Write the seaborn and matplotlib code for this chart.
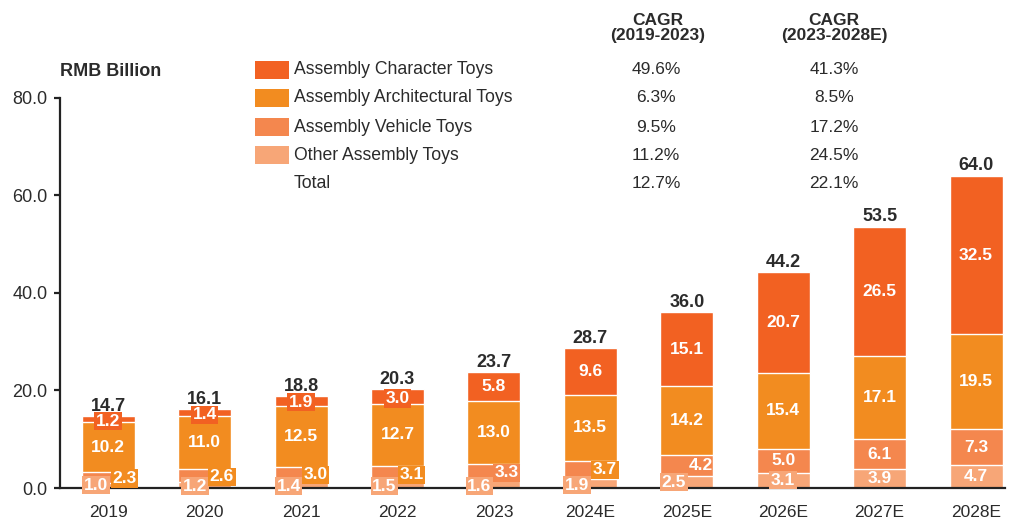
import matplotlib.pyplot as plt
import matplotlib.patches as mpatches
import pandas as pd
import seaborn as sns

years = ["2019", "2020", "2021", "2022", "2023", "2024E", "2025E", "2026E", "2027E", "2028E"]
other = [1.0, 1.2, 1.4, 1.5, 1.6, 1.9, 2.5, 3.1, 3.9, 4.7]
vehicle = [2.3, 2.6, 3.0, 3.1, 3.3, 3.7, 4.2, 5.0, 6.1, 7.3]
architectural = [10.2, 11.0, 12.5, 12.7, 13.0, 13.5, 14.2, 15.4, 17.1, 19.5]
character = [1.2, 1.4, 1.9, 3.0, 5.8, 9.6, 15.1, 20.7, 26.5, 32.5]
totals = [14.7, 16.1, 18.8, 20.3, 23.7, 28.7, 36.0, 44.2, 53.5, 64.0]

series_names = ["Assembly Character Toys", "Assembly Architectural Toys",
                "Assembly Vehicle Toys", "Other Assembly Toys", "Total"]
cagr_19_23 = ["49.6%", "6.3%", "9.5%", "11.2%", "12.7%"]
cagr_23_28 = ["41.3%", "8.5%", "17.2%", "24.5%", "22.1%"]

C_CHAR = "#F26122"
C_ARCH = "#F28C20"
C_VEH = "#F4874E"
C_OTHER = "#F7A677"
TEXT = "#2b2b2b"

plt.rcParams["font.family"] = ["Liberation Sans", "DejaVu Sans"]

df = pd.DataFrame({"year": years, "other": other, "vehicle": vehicle,
                   "architectural": architectural, "character": character})
df["c1"] = df["other"]
df["c2"] = df["c1"] + df["vehicle"]
df["c3"] = df["c2"] + df["architectural"]
df["c4"] = df["c3"] + df["character"]

fig = plt.figure(figsize=(10.1, 5.21), dpi=100)
ax = fig.add_axes([0.0594, 0.0633, 0.9356, 0.749])

# stacked bars: draw cumulative heights, tallest first
for col, color in [("c4", C_CHAR), ("c3", C_ARCH), ("c2", C_VEH), ("c1", C_OTHER)]:
    sns.barplot(data=df, x="year", y=col, color=color, saturation=1, width=0.55,
                edgecolor="white", linewidth=1.0, ax=ax)

# label placement tweaks for the thin segments: (dx, dy, box colour)
tweaks = {
    (0, "other"): (-0.13, 0.1, C_OTHER), (0, "vehicle"): (0.17, -0.15, C_ARCH),
    (0, "character"): (0, -0.4, C_CHAR),
    (1, "other"): (-0.1, -0.2, C_OTHER), (1, "vehicle"): (0.18, -0.2, C_ARCH),
    (1, "character"): (0, -0.5, C_CHAR),
    (2, "other"): (-0.13, -0.3, C_OTHER), (2, "vehicle"): (0.15, -0.2, C_ARCH),
    (2, "character"): (0, -0.25, C_CHAR),
    (3, "other"): (-0.135, -0.35, C_OTHER), (3, "vehicle"): (0.145, -0.35, C_ARCH),
    (3, "character"): (0, -0.4, C_CHAR),
    (4, "other"): (-0.15, -0.4, C_OTHER), (4, "vehicle"): (0.13, -0.15, C_VEH),
    (5, "other"): (-0.135, -0.35, C_OTHER), (5, "vehicle"): (0.15, -0.05, C_ARCH),
    (6, "other"): (-0.135, -0.05, C_OTHER), (6, "vehicle"): (0.145, 0.1, None),
    (7, "other"): (0, 0.05, C_OTHER),
}

for i in range(len(years)):
    base = 0.0
    for name in ["other", "vehicle", "architectural", "character"]:
        v = df.loc[i, name]
        dx, dy, box = tweaks.get((i, name), (0, 0, None))
        bbox = dict(boxstyle="square,pad=0.1", fc=box, ec="none") if box else None
        ax.text(i + dx, base + v / 2 + dy, f"{v:.1f}", ha="center", va="center",
                color="white", fontsize=12.5, fontweight="bold", bbox=bbox,
                zorder=5, clip_on=False)
        base += v
    ax.annotate(f"{totals[i]:.1f}", (i, df.loc[i, "c4"]), xytext=(0, 1),
                textcoords="offset points", ha="center", va="bottom",
                fontsize=13, fontweight="bold", color=TEXT)

ax.set_xlim(-0.5, 9.3)
ax.set_ylim(0, 80)
ax.set_yticks([0, 20, 40, 60, 80])
ax.set_yticklabels([f"{t:.1f}" for t in [0, 20, 40, 60, 80]])
ax.set_xlabel("")
ax.set_ylabel("")
for s in ["top", "right"]:
    ax.spines[s].set_visible(False)
for s in ["left", "bottom"]:
    ax.spines[s].set_color("#222222")
    ax.spines[s].set_linewidth(1.6)
ax.tick_params(axis="x", length=0, labelsize=12.5, labelcolor=TEXT, pad=12.5)
ax.tick_params(axis="y", length=4, width=1.6, color="#222222", labelsize=13,
               labelcolor=TEXT, pad=5)

# unit label
fig.text(60 / 1010, 1 - 71 / 521, "RMB Billion", ha="left", va="center",
         fontsize=13, fontweight="bold", color=TEXT)

# legend + CAGR table
swatches = [C_CHAR, C_ARCH, C_VEH, C_OTHER, None]
rows_y = [70, 98, 127, 155, 183]
for name, sw, y, a, b in zip(series_names, swatches, rows_y, cagr_19_23, cagr_23_28):
    fy = 1 - y / 521
    if sw:
        fig.patches.append(mpatches.Rectangle((255 / 1010, fy - 9 / 521), 34 / 1010, 18 / 521,
                                              transform=fig.transFigure, fc=sw, ec="none"))
    fig.text(294 / 1010, fy, name, ha="left", va="center", fontsize=12.7, color=TEXT)
    fig.text(656 / 1010, fy, a, ha="center", va="center", fontsize=12.5, color=TEXT)
    fig.text(834 / 1010, fy, b, ha="center", va="center", fontsize=12.5, color=TEXT)

fig.text(658 / 1010, 1 - 28 / 521, "CAGR\n(2019-2023)", ha="center", va="center",
         fontsize=12.5, fontweight="bold", color=TEXT, linespacing=1.0)
fig.text(834 / 1010, 1 - 28 / 521, "CAGR\n(2023-2028E)", ha="center", va="center",
         fontsize=12.5, fontweight="bold", color=TEXT, linespacing=1.0)

fig.savefig("out.png", dpi=100)
